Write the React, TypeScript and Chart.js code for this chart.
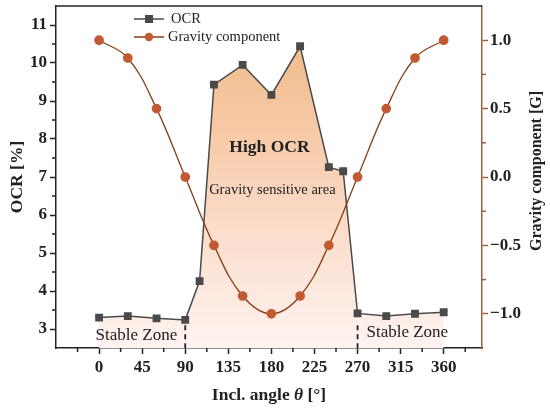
import React, { useEffect, useRef } from "react";
import { Chart, registerables } from "chart.js";

Chart.register(...registerables);

// ---- data ----
const ocrAngles = [0, 30, 60, 90, 105, 120, 150, 180, 210, 240, 255, 270, 300, 330, 360];
const ocrValues = [3.3, 3.34, 3.28, 3.24, 4.26, 9.43, 9.95, 9.16, 10.44, 7.26, 7.15, 3.41, 3.34, 3.4, 3.44];
const gravityAngles = [0, 30, 60, 90, 120, 150, 180, 210, 240, 270, 300, 330, 360];
const gravityValues = [1.0, 0.87, 0.5, 0.0, -0.5, -0.87, -1.0, -0.87, -0.5, 0.0, 0.5, 0.87, 1.0];
const xTickValues = [0, 45, 90, 135, 180, 225, 270, 315, 360];
const xMinorTicks = [-22.5, 22.5, 67.5, 112.5, 157.5, 202.5, 247.5, 292.5, 337.5, 382.5];
const ocrTickValues = [3, 4, 5, 6, 7, 8, 9, 10, 11];
const ocrMinorTicks = [3.5, 4.5, 5.5, 6.5, 7.5, 8.5, 9.5, 10.5];
const gravityTickValues = [-1, -0.5, 0, 0.5, 1];
const gravityMinorTicks = [-0.75, -0.25, 0.25, 0.75];
const zoneBounds = [90, 270];

const SERIF = '"Liberation Serif", "Times New Roman", serif';
const BLACK = "#222222";
const BROWN = "#a0603f";
const OCR_COLOR = "#4a4a4a";
const GRAV_LINE = "#8a3d16";
const GRAV_POINT = "#c05a33";

const overlay = {
  id: "overlay",
  afterDraw(chart: any) {
    const ctx = chart.ctx as CanvasRenderingContext2D;
    const { left, right, top, bottom } = chart.chartArea;
    const xs = chart.scales.x;
    const ys = chart.scales.y;
    const y1 = chart.scales.y1;
    const line = (a: number, b: number, c: number, d: number) => {
      ctx.beginPath();
      ctx.moveTo(a, b);
      ctx.lineTo(c, d);
      ctx.stroke();
    };
    ctx.save();
    // top border
    ctx.strokeStyle = BLACK;
    ctx.lineWidth = 1.5;
    line(left, top, right, top);
    // minor ticks
    xMinorTicks.forEach((v) => {
      const px = xs.getPixelForValue(v);
      line(px, bottom, px, bottom + 4);
    });
    ocrMinorTicks.forEach((v) => {
      const py = ys.getPixelForValue(v);
      line(left - 4, py, left, py);
    });
    ctx.strokeStyle = BROWN;
    gravityMinorTicks.forEach((v) => {
      const py = y1.getPixelForValue(v);
      line(right, py, right + 4, py);
    });
    // dashed zone boundaries
    ctx.strokeStyle = BLACK;
    ctx.lineWidth = 1.8;
    ctx.setLineDash([5, 4]);
    zoneBounds.forEach((v) => {
      const px = xs.getPixelForValue(v);
      line(px, ys.getPixelForValue(3.1), px, bottom);
    });
    ctx.setLineDash([]);

    // annotations
    ctx.fillStyle = BLACK;
    ctx.textAlign = "center";
    ctx.textBaseline = "middle";
    ctx.font = `bold 17.5px ${SERIF}`;
    ctx.fillText("High OCR", xs.getPixelForValue(178), ys.getPixelForValue(7.78));
    ctx.font = `14.5px ${SERIF}`;
    ctx.fillText("Gravity sensitive area", xs.getPixelForValue(181), ys.getPixelForValue(6.65));
    ctx.font = `17px ${SERIF}`;
    ctx.fillText("Stable Zone", xs.getPixelForValue(39), ys.getPixelForValue(2.82));
    ctx.fillText("Stable Zone", xs.getPixelForValue(322), ys.getPixelForValue(2.9));

    // legend
    ctx.lineWidth = 1.5;
    ctx.strokeStyle = OCR_COLOR;
    line(134, 19, 164, 19);
    ctx.fillStyle = OCR_COLOR;
    ctx.fillRect(149 - 4, 19 - 4, 8, 8);
    ctx.strokeStyle = GRAV_LINE;
    line(134, 37, 164, 37);
    ctx.fillStyle = GRAV_POINT;
    ctx.beginPath();
    ctx.arc(149, 37, 4.2, 0, Math.PI * 2);
    ctx.fill();
    ctx.fillStyle = BLACK;
    ctx.textAlign = "left";
    ctx.font = `14.5px ${SERIF}`;
    ctx.fillText("OCR", 171, 19);
    ctx.fillText("Gravity component", 168, 37);

    // x title with italic theta
    const cx = (left + right) / 2;
    const ty = 395;
    const p1 = "Incl. angle ";
    const p2 = "\u03b8";
    const p3 = " [\u00b0]";
    const fB = `bold 17.5px ${SERIF}`;
    const fI = `italic bold 17.5px ${SERIF}`;
    ctx.font = fB;
    const w1 = ctx.measureText(p1).width;
    const w3 = ctx.measureText(p3).width;
    ctx.font = fI;
    const w2 = ctx.measureText(p2).width;
    let sx = cx - (w1 + w2 + w3) / 2;
    ctx.textAlign = "left";
    ctx.font = fB;
    ctx.fillText(p1, sx, ty);
    sx += w1;
    ctx.font = fI;
    ctx.fillText(p2, sx, ty);
    sx += w2;
    ctx.font = fB;
    ctx.fillText(p3, sx, ty);

    // left title
    ctx.textAlign = "center";
    ctx.save();
    ctx.translate(17, (top + bottom) / 2);
    ctx.rotate(-Math.PI / 2);
    ctx.font = `bold 17.5px ${SERIF}`;
    ctx.fillText("OCR [%]", 0, 0);
    ctx.restore();
    // right title
    ctx.save();
    ctx.translate(537, (top + bottom) / 2 - 6);
    ctx.rotate(-Math.PI / 2);
    ctx.font = `bold 16px ${SERIF}`;
    ctx.fillText("Gravity component [G]", 0, 0);
    ctx.restore();

    ctx.restore();
  },
};

export default function App() {
  const ref = useRef<HTMLCanvasElement | null>(null);
  useEffect(() => {
    if (!ref.current) return;
    const tickFont = { family: SERIF, size: 17, weight: "bold" as const };
    const chart = new Chart(ref.current, {
      type: "line",
      data: {
        datasets: [
          {
            label: "Gravity component",
            data: gravityAngles.map((a, i) => ({ x: a, y: gravityValues[i] })),
            yAxisID: "y1",
            borderColor: GRAV_LINE,
            borderWidth: 1.3,
            backgroundColor: GRAV_POINT,
            pointBackgroundColor: GRAV_POINT,
            pointBorderColor: GRAV_POINT,
            pointRadius: 4.2,
            pointStyle: "circle",
            tension: 0.4,
            fill: false,
            order: 0,
          },
          {
            label: "OCR",
            data: ocrAngles.map((a, i) => ({ x: a, y: ocrValues[i] })),
            yAxisID: "y",
            borderColor: OCR_COLOR,
            borderWidth: 1.5,
            pointBackgroundColor: OCR_COLOR,
            pointBorderColor: OCR_COLOR,
            pointRadius: 4.5,
            pointStyle: "rect",
            tension: 0,
            fill: "start",
            backgroundColor: (c: any) => {
              const { chart } = c;
              const area = chart.chartArea;
              if (!area) return "rgba(246,200,165,0.8)";
              const g = chart.ctx.createLinearGradient(0, area.top, 0, area.bottom);
              g.addColorStop(0, "rgb(238,184,130)");
              g.addColorStop(0.35, "rgb(247,200,165)");
              g.addColorStop(0.7, "rgb(251,224,208)");
              g.addColorStop(1, "rgb(254,243,240)");
              return g;
            },
            order: 1,
          },
        ],
      },
      options: {
        animation: false,
        responsive: true,
        maintainAspectRatio: false,
        layout: { padding: { top: 5, left: 0, right: 0, bottom: 0 } },
        plugins: { legend: { display: false }, tooltip: { enabled: false } },
        scales: {
          x: {
            type: "linear",
            min: -45,
            max: 400,
            afterBuildTicks: (s: any) => {
              s.ticks = xTickValues.map((v) => ({ value: v }));
            },
            afterFit: (s: any) => {
              s.height = 62;
              s.paddingLeft = 0;
              s.paddingRight = 0;
            },
            ticks: {
              font: tickFont,
              color: BLACK,
              padding: 3,
              maxRotation: 0,
              autoSkip: false,
              callback: (v: any) => String(v),
            },
            grid: { display: true, drawOnChartArea: false, drawTicks: true, tickLength: 6, tickColor: BLACK, tickWidth: 1.5 },
            border: { display: true, color: BLACK, width: 1.5 },
          },
          y: {
            type: "linear",
            position: "left",
            min: 2.5,
            max: 11.5,
            afterBuildTicks: (s: any) => {
              s.ticks = ocrTickValues.map((v) => ({ value: v }));
            },
            afterFit: (s: any) => {
              s.width = 56;
              s.paddingTop = 0;
              s.paddingBottom = 0;
            },
            ticks: { font: tickFont, color: BLACK, padding: 3, callback: (v: any) => String(v) },
            grid: { display: true, drawOnChartArea: false, drawTicks: true, tickLength: 6, tickColor: BLACK, tickWidth: 1.5 },
            border: { display: true, color: BLACK, width: 1.5 },
          },
          y1: {
            type: "linear",
            position: "right",
            min: -1.25,
            max: 1.25,
            afterBuildTicks: (s: any) => {
              s.ticks = gravityTickValues.map((v) => ({ value: v }));
            },
            afterFit: (s: any) => {
              s.width = 68;
              s.paddingTop = 0;
              s.paddingBottom = 0;
            },
            ticks: {
              font: tickFont,
              color: BLACK,
              padding: 2,
              callback: (v: any) => (v < 0 ? "\u2212" + Math.abs(v).toFixed(1) : Number(v).toFixed(1)),
            },
            grid: { display: true, drawOnChartArea: false, drawTicks: true, tickLength: 6, tickColor: BROWN, tickWidth: 1.5 },
            border: { display: true, color: BROWN, width: 1.5 },
          },
        },
      },
      plugins: [overlay],
    } as any);
    return () => chart.destroy();
  }, []);
  return (
    <div style={{ position: "fixed", left: 0, top: 0, width: 550, height: 410, background: "#fff" }}>
      <canvas ref={ref} />
    </div>
  );
}
